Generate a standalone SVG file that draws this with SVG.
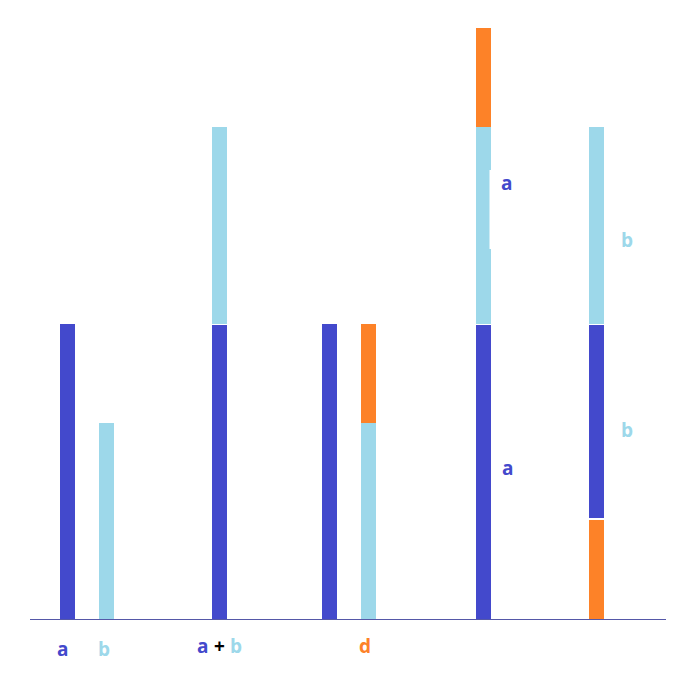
<svg xmlns="http://www.w3.org/2000/svg" width="692" height="673" viewBox="0 0 692 673">
<style>
.d{fill:#4349cc}.l{fill:#9dd8ea}.o{fill:#fd8228}
text{font-family:"Open Sans","Liberation Sans",sans-serif;font-weight:bold;font-size:19px}
.td{fill:#4349cc}.tl{fill:#9dd8ea}.to{fill:#fd8228}.tk{fill:#000}
</style>
<rect width="692" height="673" fill="#fff"/>
<g id="bar-a"><rect class="d" x="60" y="324" width="15" height="295"/></g>
<g id="bar-b"><rect class="l" x="99" y="423" width="15" height="196"/></g>
<g id="bar-ab"><rect class="l" x="212" y="127" width="15" height="197"/><rect class="d" x="212" y="325" width="15" height="294"/></g>
<g id="bar-a2"><rect class="d" x="322" y="324" width="15" height="295"/></g>
<g id="bar-d"><rect class="o" x="361" y="324" width="15" height="99"/><rect class="l" x="361" y="423" width="15" height="196"/></g>
<g id="bar-stack1"><rect class="o" x="476" y="28" width="15" height="99"/><rect class="l" x="476" y="127" width="15" height="197"/><rect class="d" x="476" y="325" width="15" height="294"/><rect fill="#fff" x="489.5" y="170" width="2" height="79"/></g>
<g id="bar-stack2"><rect class="l" x="589" y="127" width="15" height="197"/><rect class="d" x="589" y="325" width="15" height="193"/><rect class="o" x="589" y="520" width="15" height="99"/></g>
<g id="connectors"><line x1="30" y1="619.5" x2="666" y2="619.5" stroke="#5558a8" stroke-width="1"/></g>
<g id="labels">
<text class="td" x="57" y="656">a</text>
<text class="tl" x="98" y="656">b</text>
<text class="td" x="197" y="653">a</text>
<text class="tk" x="214" y="653">+</text>
<text class="tl" x="230" y="653">b</text>
<text class="to" x="359" y="653">d</text>
<text class="td" x="501" y="190">a</text>
<text class="td" x="502" y="475">a</text>
<text class="tl" x="621" y="247">b</text>
<text class="tl" x="621" y="437">b</text>
</g>
</svg>
